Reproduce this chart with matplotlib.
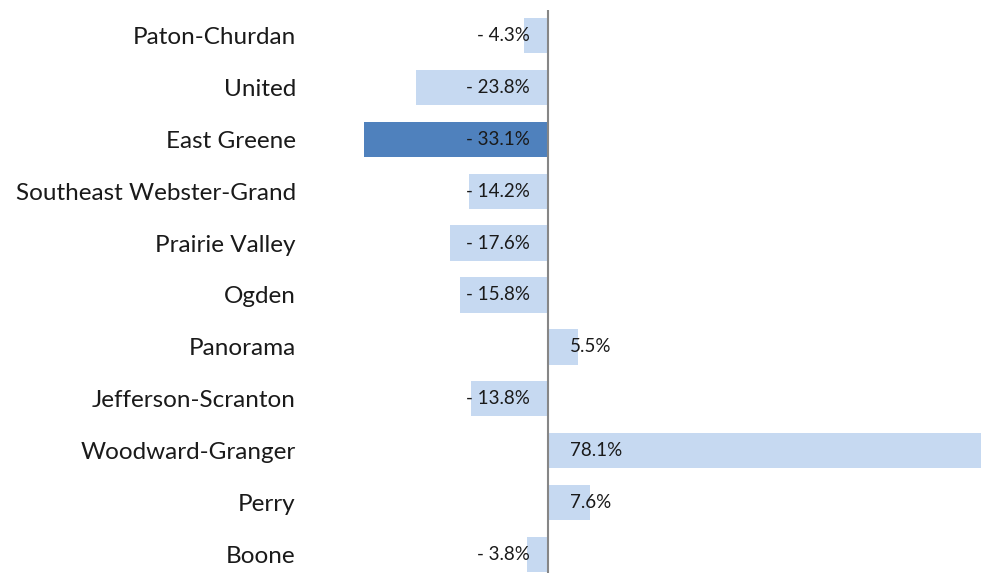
import matplotlib
matplotlib.use("Agg")
import matplotlib.pyplot as plt
from matplotlib.transforms import offset_copy

categories = ["Paton-Churdan", "United", "East Greene", "Southeast Webster-Grand",
              "Prairie Valley", "Ogden", "Panorama", "Jefferson-Scranton",
              "Woodward-Granger", "Perry", "Boone"]
values = [-4.3, -23.8, -33.1, -14.2, -17.6, -15.8, 5.5, -13.8, 78.1, 7.6, -3.8]
highlight = "East Greene"

light = "#C6D9F1"
dark = "#4F81BD"
font = ["Lato", "DejaVu Sans"]

fig = plt.figure(figsize=(9.81, 5.73), dpi=100)
ax = fig.add_axes([300/981, -7.5/573, 681/981, 571/573])

colors = [dark if c == highlight else light for c in categories]
y = list(range(len(categories)))
ax.barh(y, values, height=0.68, color=colors, zorder=2)
ax.set_ylim(len(categories) - 0.5, -0.5)
ax.set_xlim(-44.7, 78.1)
ax.axvline(0, color="#868686", lw=1.5, zorder=3)

for s in ax.spines.values():
    s.set_visible(False)
ax.set_xticks([])
ax.set_yticks(y)
ax.set_yticklabels(categories, fontsize=17.5, family=font, color="#1a1a1a")
ax.tick_params(axis="y", length=0, pad=3)

for yi, v in zip(y, values):
    if v < 0:
        txt = "- {:.1f}%".format(abs(v))
        tr = offset_copy(ax.transData, fig=fig, x=-18, y=0, units="dots")
        ax.text(0, yi, txt, transform=tr, ha="right", va="center",
                fontsize=13.5, family=font, color="#1a1a1a", zorder=4)
    else:
        txt = "{:.1f}%".format(v)
        tr = offset_copy(ax.transData, fig=fig, x=22, y=0, units="dots")
        ax.text(0, yi, txt, transform=tr, ha="left", va="center",
                fontsize=13.5, family=font, color="#1a1a1a", zorder=4)

fig.savefig("out.png", dpi=100)
